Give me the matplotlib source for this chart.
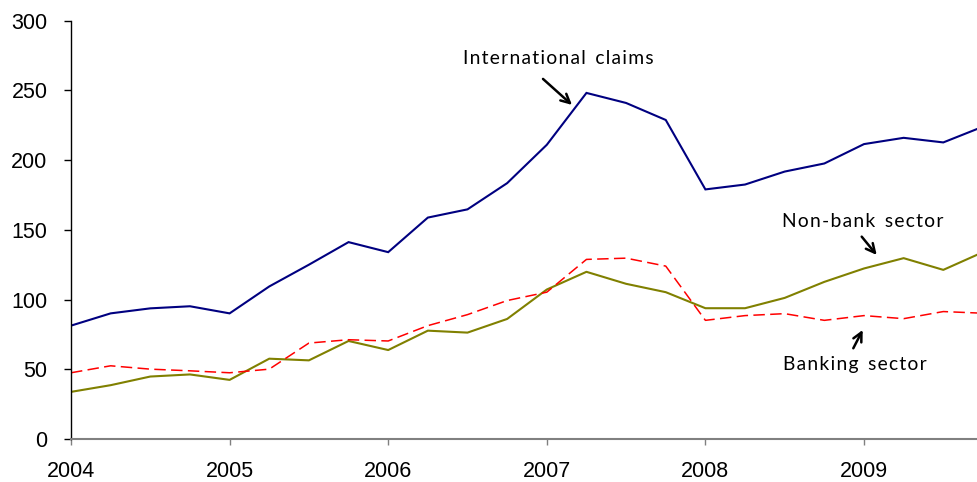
import matplotlib
matplotlib.use("Agg")
import matplotlib.pyplot as plt
import numpy as np

# Quarterly data, 2004Q1 .. 2009Q4
years = [2004 + 0.25 * i for i in range(24)]
international_claims = [81.3, 90.1, 93.7, 95.2, 90.1, 109.4, 125.0, 141.2,
                        134.0, 158.8, 164.7, 183.5, 211.0, 248.2, 241.0, 228.8,
                        179.0, 182.5, 191.8, 197.6, 211.5, 216.0, 212.7, 224.0]
non_bank_sector = [33.8, 38.6, 44.8, 46.3, 42.4, 57.6, 56.4, 70.3,
                   63.8, 77.7, 76.3, 86.1, 107.2, 119.9, 111.3, 105.3,
                   93.8, 93.8, 101.2, 112.7, 122.3, 129.7, 121.3, 134.0]
banking_sector = [47.5, 52.5, 50.1, 48.9, 47.5, 50.1, 68.8, 71.2,
                  70.3, 81.3, 89.2, 99.3, 105.3, 128.8, 129.7, 124.0,
                  85.1, 88.5, 89.9, 85.1, 88.5, 86.3, 91.4, 90.2]
year_ticks = [2004, 2005, 2006, 2007, 2008, 2009]
y_ticks = [0, 50, 100, 150, 200, 250, 300]

fig = plt.figure(figsize=(9.77, 4.82), dpi=100)
ax = fig.add_axes([71 / 977, 43 / 482, (977 - 71) / 977, (439 - 20.7) / 482])

ax.plot(years, international_claims, color="#000080", lw=1.5, solid_joinstyle="miter")
ax.plot(years, non_bank_sector, color="#808000", lw=1.5)
ax.plot(years, banking_sector, color="#FF0000", lw=1.1, linestyle=(0, (7.5, 3.5)))

ax.set_xlim(2004, 2004 + 906 / 158.6)
ax.set_ylim(0, 300)
ax.set_xticks(year_ticks)
ax.set_xticklabels([str(y) for y in year_ticks])
ax.set_yticks(y_ticks)

for s in ["top", "right"]:
    ax.spines[s].set_visible(False)
ax.spines["left"].set_color("black")
ax.spines["left"].set_linewidth(1.0)
ax.spines["bottom"].set_color("#808080")
ax.spines["bottom"].set_linewidth(1.5)

ax.tick_params(axis="y", direction="out", length=5, width=1, color="black", pad=12, labelsize=15.5)
ax.tick_params(axis="x", direction="out", length=4.5, width=1, color="#808080", pad=11, labelsize=15.5)
for lab in ax.get_xticklabels() + ax.get_yticklabels():
    lab.set_fontfamily("Liberation Sans")

ann_font = dict(family="Lato", size=13.9)
arrow = dict(arrowstyle="->", color="black", lw=1.8, mutation_scale=16, shrinkA=0, shrinkB=0)

def px2data(px, py):
    return 2004 + (px - 71) / 158.6, (439 - py) / 1.394

def spaced(s):
    return "\u200a".join(s).replace("\u200a \u200a", "\u2002")

ax.annotate("", xy=px2data(572, 105), xytext=px2data(543, 79), arrowprops=arrow)
ax.annotate("", xy=px2data(876.7, 255), xytext=px2data(861.7, 236.7), arrowprops=arrow)
ax.annotate("", xy=px2data(862.7, 330), xytext=px2data(853.3, 348.3), arrowprops=arrow)

tx, ty = px2data(558.5, 59)
ax.text(tx, ty, spaced("International claims"), ha="center", va="center", **ann_font)
tx, ty = px2data(862.7, 221.5)
ax.text(tx, ty, spaced("Non-bank sector"), ha="center", va="center", **ann_font)
tx, ty = px2data(855, 365)
ax.text(tx, ty, spaced("Banking sector"), ha="center", va="center", **ann_font)

fig.savefig("out.png", dpi=100)
